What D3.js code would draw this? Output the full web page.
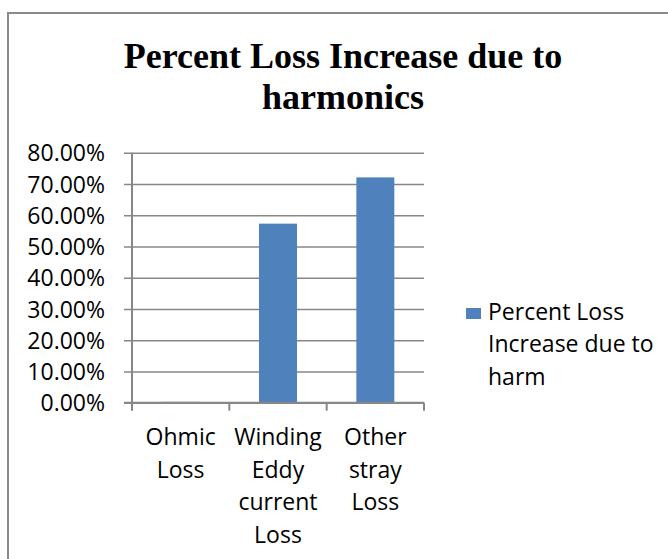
<!DOCTYPE html>
<html>
<head>
<meta charset="utf-8">
<script src="https://cdn.jsdelivr.net/npm/d3@7"></script>
<style>
  html, body { margin: 0; padding: 0; background: #fff; }
  svg { display: block; }
</style>
</head>
<body>
<svg id="chart" width="668" height="559"></svg>
<script>
const titleLines = ["Percent Loss Increase due to", "harmonics"];
const categories = ["Ohmic Loss", "Winding Eddy current Loss", "Other stray Loss"];
const categoryLines = [["Ohmic", "Loss"], ["Winding", "Eddy", "current", "Loss"], ["Other", "stray", "Loss"]];
const values = [0.002, 0.573, 0.721];
const yTicks = [0, 0.1, 0.2, 0.3, 0.4, 0.5, 0.6, 0.7, 0.8];
const legendLines = ["Percent Loss", "Increase due to", "harm"];

const svg = d3.select("#chart");
const gridColor = "#878787";
const barColor = "#4F81BD";
const labelFont = "'Open Sans', 'Liberation Sans', sans-serif";
const labelSize = 23;

// outer border (extends past right/bottom edge)
svg.append("rect")
  .attr("x", 8).attr("y", 13)
  .attr("width", 700).attr("height", 600)
  .attr("fill", "none").attr("stroke", "#8a8a8a").attr("stroke-width", 2);

// title
svg.append("g").selectAll("text").data(titleLines).join("text")
  .attr("x", 343)
  .attr("y", (d, i) => 68 + i * 41)
  .attr("text-anchor", "middle")
  .attr("font-family", "'Liberation Serif', 'Times New Roman', serif")
  .attr("font-weight", "bold")
  .attr("font-size", 36)
  .attr("fill", "#000")
  .text(d => d);

const x = d3.scaleBand().domain(categories).range([132, 424]).padding(0);
const y = d3.scaleLinear().domain([0, 0.8]).range([402.7, 152.7]);

// gridlines + y ticks
const yAxis = d3.axisLeft(y).tickValues(yTicks).tickSize(8).tickFormat(d3.format(".2%"));
const yG = svg.append("g").attr("transform", "translate(132,0)").call(yAxis);
yG.select(".domain").remove();
yG.selectAll(".tick line").attr("stroke", gridColor).attr("stroke-width", 1.5)
  .attr("x1", -8).attr("x2", 292);
yG.selectAll(".tick text")
  .attr("x", -27)
  .attr("dy", "0.36em")
  .attr("font-family", labelFont)
  .attr("font-size", labelSize)
  .attr("fill", "#000");

// bars
const barFrac = 0.39;
svg.append("g").selectAll("rect").data(values).join("rect")
  .attr("x", (d, i) => x(categories[i]) + x.bandwidth() * (1 - barFrac) / 2)
  .attr("width", x.bandwidth() * barFrac)
  .attr("y", d => y(d))
  .attr("height", d => y(0) - y(d))
  .attr("fill", barColor)
  .attr("stroke", d => d < 0.01 ? "#c8d3e6" : "none")
  .attr("stroke-width", 1);

// y axis line
svg.append("line")
  .attr("x1", 132).attr("x2", 132)
  .attr("y1", y(0.8)).attr("y2", y(0))
  .attr("stroke", gridColor).attr("stroke-width", 2);

// x axis
const xAxis = d3.axisBottom(x).tickSize(0).tickFormat("");
const xG = svg.append("g").attr("transform", `translate(0,${y(0)})`).call(xAxis);
xG.select(".domain").attr("stroke", gridColor).attr("stroke-width", 2)
  .attr("d", "M124,0H424");
// category boundary ticks
const boundaries = categories.map(c => x(c)).concat([x.range()[1]]);
xG.selectAll(".bnd").data(boundaries).join("line")
  .attr("class", "bnd")
  .attr("x1", d => d).attr("x2", d => d)
  .attr("y1", 0).attr("y2", 8)
  .attr("stroke", gridColor).attr("stroke-width", 2);

// category labels
const catG = svg.append("g");
categories.forEach((c, i) => {
  catG.append("g").selectAll("text").data(categoryLines[i]).join("text")
    .attr("x", x(c) + x.bandwidth() / 2)
    .attr("y", (d, j) => 445 + j * 32.5)
    .attr("text-anchor", "middle")
    .attr("font-family", labelFont)
    .attr("font-size", labelSize)
    .attr("fill", "#000")
    .text(d => d);
});

// legend
svg.append("rect")
  .attr("x", 466).attr("y", 308).attr("width", 15).attr("height", 11)
  .attr("fill", barColor);
svg.append("g").selectAll("text").data(legendLines).join("text")
  .attr("x", 488)
  .attr("y", (d, i) => 319.5 + i * 32.8)
  .attr("font-family", labelFont)
  .attr("font-size", labelSize)
  .attr("fill", "#000")
  .text(d => d);
</script>
</body>
</html>
